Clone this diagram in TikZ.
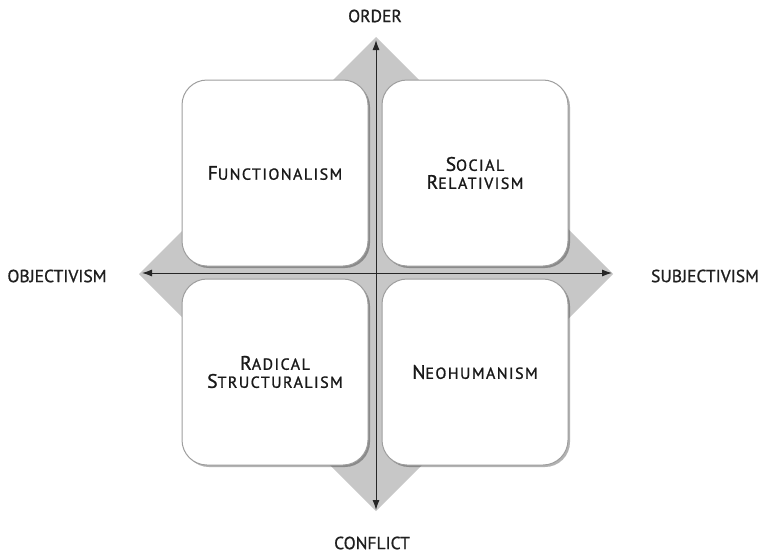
\documentclass[tikz,border=0pt]{standalone}
\usepackage{fontspec}
\setmainfont{PT Sans}
\newfontfamily\quadfont[LetterSpace=9,FakeBold=1.2]{PT Sans}
\newfontfamily\axisfont[FakeBold=1]{PT Sans}
\usetikzlibrary{arrows.meta,shadows}
% faked small caps: larger initial, smaller remaining capitals
\newcommand\scword[2]{{\fontsize{19.5}{20}\selectfont #1}{\fontsize{16}{20}\selectfont #2}}
\begin{document}
\begin{tikzpicture}[x=1pt,y=-1pt,
  quad/.style={draw=black!38, line width=1pt, fill=white, rounded corners=25pt,
    minimum width=186pt, minimum height=186pt, inner sep=0pt,
    align=center, font=\quadfont, text=black!90,
    drop shadow={shadow xshift=2pt, shadow yshift=-2pt, opacity=0.3, fill=black}},
  axis/.style={{Latex[length=10pt,width=7pt]}-{Latex[length=10pt,width=7pt]}, line width=1pt, black!85},
  axislabel/.style={font=\axisfont\fontsize{17.5}{20}\selectfont, text=black!88, inner sep=0pt}]
  \useasboundingbox (0,0) rectangle (767,554);

  % grey diamond behind the four quadrants
  \fill[black!22] (376,37) -- (613,274) -- (376,511) -- (139,274) -- cycle;

  % quadrants
  \node[quad] (func) at (275,173) {\scword{F}{UNCTIONALISM}};
  \node[quad] (socrel) at (475,173) {\scword{S}{OCIAL}\\[3pt]\scword{R}{ELATIVISM}};
  \node[quad] (radstr) at (275,372) {\scword{R}{ADICAL}\\[3pt]\scword{S}{TRUCTURALISM}};
  \node[quad] (neohum) at (475,372) {\scword{N}{EOHUMANISM}};

  % axis end points
  \coordinate (top) at (376,40);
  \coordinate (bottom) at (376,510);
  \coordinate (left) at (142,273);
  \coordinate (right) at (612,273);

  \draw[axis] (bottom) -- (top);
  \draw[axis] (left) -- (right);

  % axis labels
  \node[axislabel] (order) at (375,16) {ORDER};
  \node[axislabel] (conflict) at (372,543) {CONFLICT};
  \node[axislabel] (objectiv) at (57,276) {OBJECTIVISM};
  \node[axislabel] (subjectiv) at (705,276) {SUBJECTIVISM};
\end{tikzpicture}
\end{document}
